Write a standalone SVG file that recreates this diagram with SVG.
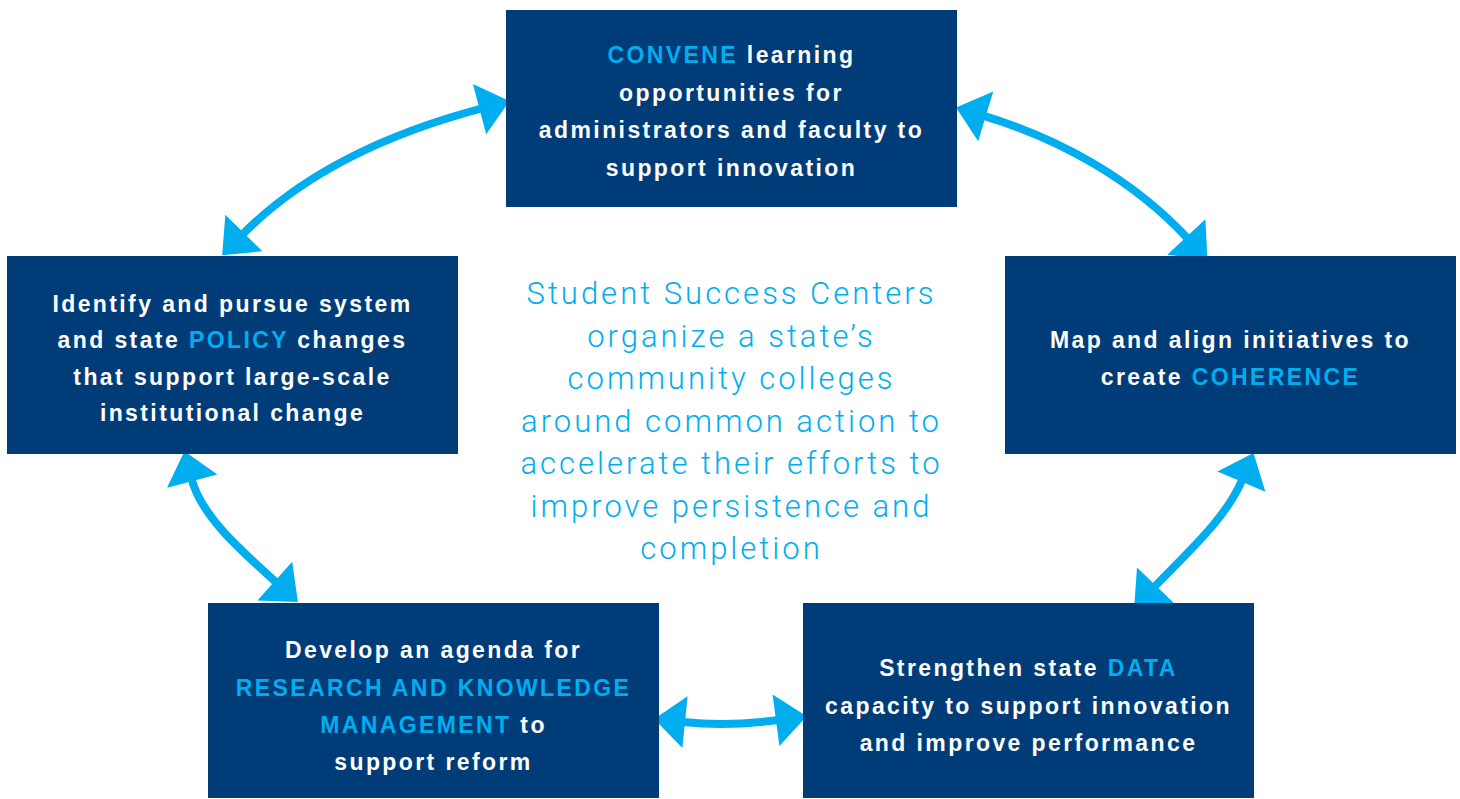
<svg xmlns="http://www.w3.org/2000/svg" width="1460" height="799" viewBox="0 0 1460 799">
<style>
.box{fill:#003c78}
.t{font-family:"Liberation Sans",Arial,sans-serif;font-weight:bold;font-size:23px;fill:#ffffff;text-anchor:middle;letter-spacing:2.4px}
.hl{fill:#00aeef}
.conn{fill:none;stroke:#00aeef;stroke-width:8}
.center{font-family:Roboto,"Liberation Sans",sans-serif;font-weight:300;font-size:31px;fill:#00aeef;text-anchor:middle;letter-spacing:3px}
</style>
<defs>
<marker id="ah" markerUnits="userSpaceOnUse" markerWidth="40" markerHeight="60" refX="2" refY="26" orient="auto-start-reverse" overflow="visible">
<path d="M0,0 L31,26 L0,52 z" fill="#00aeef"/>
</marker>
</defs>
<g id="connectors">
<path class="conn" d="M242.5,234.5 C306.5,169.5 392.8,132 481.5,108.5" marker-start="url(#ah)" marker-end="url(#ah)"/>
<path class="conn" d="M983.8,115.8 C1060.9,139.2 1132.9,179.6 1187.7,238.4" marker-start="url(#ah)" marker-end="url(#ah)"/>
<path class="conn" d="M191.7,479.2 C201,515 238,548 276.3,582.5" marker-start="url(#ah)" marker-end="url(#ah)"/>
<path class="conn" d="M1242.2,479.7 C1226,518 1190,550 1154.3,587" marker-start="url(#ah)" marker-end="url(#ah)"/>
<path class="conn" d="M683,722 C713,725 748,724 778,720" marker-start="url(#ah)" marker-end="url(#ah)"/>
</g>
<g id="convene">
<rect class="box" x="506" y="10" width="451" height="197"/>
<text class="t" x="731.5" y="63"><tspan class="hl">CONVENE</tspan> learning</text>
<text class="t" x="731.5" y="100.5">opportunities for</text>
<text class="t" x="731.5" y="138">administrators and faculty to</text>
<text class="t" x="731.5" y="175.5">support innovation</text>
</g>
<g id="policy">
<rect class="box" x="7" y="256" width="451" height="198"/>
<text class="t" x="232.5" y="311.5">Identify and pursue system</text>
<text class="t" x="232.5" y="348">and state <tspan class="hl">POLICY</tspan> changes</text>
<text class="t" x="232.5" y="384.5">that support large-scale</text>
<text class="t" x="232.5" y="421">institutional change</text>
</g>
<g id="coherence">
<rect class="box" x="1005" y="256" width="451" height="198"/>
<text class="t" x="1230.5" y="347.7">Map and align initiatives to</text>
<text class="t" x="1230.5" y="384.5">create <tspan class="hl">COHERENCE</tspan></text>
</g>
<g id="research">
<rect class="box" x="208" y="603" width="451" height="195"/>
<text class="t" x="433.5" y="658">Develop an agenda for</text>
<text class="t hl" x="433.5" y="695.5">RESEARCH AND KNOWLEDGE</text>
<text class="t" x="433.5" y="733"><tspan class="hl">MANAGEMENT</tspan> to</text>
<text class="t" x="433.5" y="770">support reform</text>
</g>
<g id="data">
<rect class="box" x="803" y="603" width="451" height="195"/>
<text class="t" x="1028.5" y="676">Strengthen state <tspan class="hl">DATA</tspan></text>
<text class="t" x="1028.5" y="713.5">capacity to support innovation</text>
<text class="t" x="1028.5" y="751">and improve performance</text>
</g>
<g id="center-text">
<text class="center" x="731.5" y="304">Student Success Centers</text>
<text class="center" x="731.5" y="346.5">organize a state’s</text>
<text class="center" x="731.5" y="389">community colleges</text>
<text class="center" x="731.5" y="431.5">around common action to</text>
<text class="center" x="731.5" y="474">accelerate their efforts to</text>
<text class="center" x="731.5" y="516.5">improve persistence and</text>
<text class="center" x="731.5" y="559">completion</text>
</g>
</svg>
